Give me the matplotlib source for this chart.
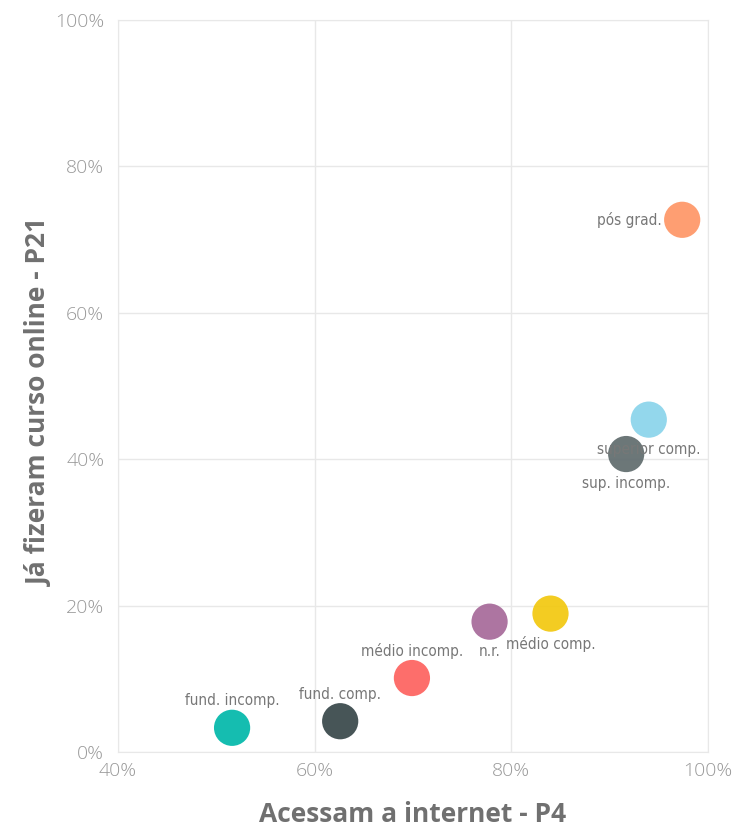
import matplotlib.pyplot as plt
from matplotlib.ticker import FuncFormatter

# escolaridade: % que acessa a internet (P4) x % que já fez curso online (P21)
categories = ['fund. incomp.', 'fund. comp.', 'médio incomp.', 'n.r.',
              'médio comp.', 'sup. incomp.', 'superior comp.', 'pós grad.']
acesso_internet = [51.6, 62.6, 69.9, 77.8, 84.0, 91.7, 94.0, 97.4]
curso_online = [3.3, 4.2, 10.1, 17.8, 18.9, 40.7, 45.4, 72.7]
colors = ['#01B8AA', '#374649', '#FD625E', '#A66999',
          '#F2C80F', '#5F6B6D', '#8AD4EB', '#FE9666']
# where the label sits relative to the point
label_pos = ['above', 'above', 'above', 'below', 'below', 'below', 'below', 'left']

fig = plt.figure(figsize=(7.38, 8.32), dpi=100)
ax = fig.add_axes([0.16, 0.0962, 0.799, 0.8798])

ax.scatter(acesso_internet, curso_online, s=680, c=colors, alpha=0.92,
           edgecolors='none', zorder=3)

for name, x, y, pos in zip(categories, acesso_internet, curso_online, label_pos):
    if pos == 'above':
        off, ha, va = (0, 14), 'center', 'bottom'
    elif pos == 'below':
        off, ha, va = (0, -16), 'center', 'top'
    else:
        off, ha, va = (-15, 0), 'right', 'center'
    ax.annotate(name, (x, y), xytext=off, textcoords='offset points',
                ha=ha, va=va, fontsize=11, color='#777777',
                family='DejaVu Sans', fontstretch='condensed', zorder=4)

ax.set_xlim(40, 100)
ax.set_ylim(0, 100)
ax.set_xticks([40, 60, 80, 100])
ax.set_yticks([0, 20, 40, 60, 80, 100])
pct = FuncFormatter(lambda v, _: f'{v:.0f}%')
ax.xaxis.set_major_formatter(pct)
ax.yaxis.set_major_formatter(pct)
ax.tick_params(length=0, labelsize=14, labelcolor='#999999')
ax.tick_params(axis='x', pad=7)
ax.tick_params(axis='y', pad=10)
for lab in ax.get_xticklabels() + ax.get_yticklabels():
    lab.set_family('Open Sans')
    lab.set_fontweight('light')

ax.grid(color='#e8e8e8', linewidth=1)
ax.set_axisbelow(True)
for sp in ax.spines.values():
    sp.set_color('#e8e8e8')

ax.set_xlabel('Acessam a internet - P4', fontsize=19, fontweight='bold',
              color='#707070', family='Open Sans', labelpad=15)
ax.set_ylabel('Já fizeram curso online - P21', fontsize=19, fontweight='bold',
              color='#707070', family='Open Sans')
ax.yaxis.set_label_coords(-0.11, 0.478)

fig.savefig('out.png', dpi=100)
